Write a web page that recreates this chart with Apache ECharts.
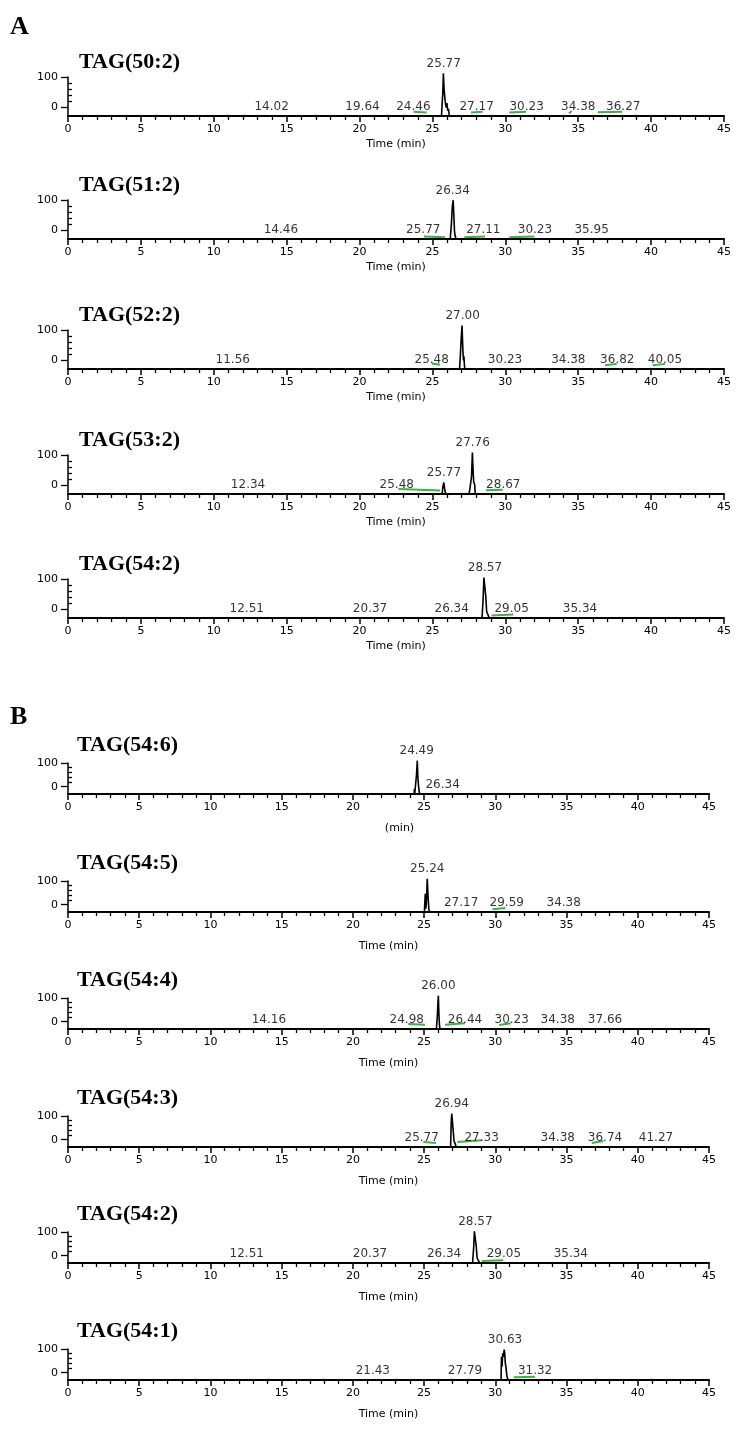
<!DOCTYPE html>
<html>
<head>
<meta charset="utf-8">
<title>TAG chromatograms</title>
<script src="https://cdn.jsdelivr.net/npm/echarts@6/dist/echarts.min.js"></script>
<style>
  html, body { margin: 0; padding: 0; background: #fff; }
  #chart { width: 739px; height: 1435px; }
</style>
</head>
<body>
<div id="chart"></div>
<script>
// 坐标轴刻度
const X_MIN = 0
const X_MAX = 45
const X_STEP = 5
const Y_TICKS = [0, 100]
const Y_MINOR_TICKS = [20, 40, 60, 80]

// 面板标题
const TITLES_A = ['TAG(50:2)', 'TAG(51:2)', 'TAG(52:2)', 'TAG(53:2)', 'TAG(54:2)']
const TITLES_B = ['TAG(54:6)', 'TAG(54:5)', 'TAG(54:4)', 'TAG(54:3)', 'TAG(54:2)', 'TAG(54:1)']

// 色谱曲线 [时间 min, 相对丰度 %]
const trace50_2 = [[25.62, 0], [25.68, 3], [25.71, 55], [25.75, 100], [25.79, 68], [25.83, 50], [25.87, 36], [25.91, 25], [25.95, 20], [25.99, 30], [26.02, 20], [26.06, 12], [26.1, 17], [26.14, 5], [26.17, 0]]
const trace51_2 = [[26.22, 0], [26.3, 35], [26.36, 75], [26.42, 91], [26.47, 55], [26.51, 20], [26.55, 8], [26.58, 10], [26.62, 0]]
const trace52_2 = [[26.86, 0], [26.92, 35], [26.97, 70], [27.03, 102], [27.07, 60], [27.1, 35], [27.13, 20], [27.16, 30], [27.2, 5], [27.24, 0]]
const trace53_2 = [[25.66, 0], [25.72, 18], [25.78, 27], [25.83, 14], [25.87, 5], [25.9, 8], [25.94, 0], [27.5, 0], [27.55, 7], [27.62, 8], [27.68, 40], [27.74, 97], [27.79, 55], [27.83, 28], [27.86, 30], [27.9, 22], [27.93, 0]]
const trace54_2 = [[28.4, 0], [28.47, 40], [28.53, 95], [28.6, 95], [28.66, 50], [28.72, 15], [28.78, 12], [28.84, 5], [28.9, 0]]
const trace54_6 = [[24.3, 0], [24.32, 15], [24.34, 0], [24.42, 0], [24.47, 60], [24.52, 100], [24.57, 45], [24.62, 20], [24.66, 5], [24.7, 0]]
const trace54_5 = [[25.02, 0], [25.08, 55], [25.12, 10], [25.16, 30], [25.22, 100], [25.28, 45], [25.33, 10], [25.38, 0]]
const trace54_4 = [[25.86, 0], [25.93, 40], [25.97, 80], [26.0, 100], [26.04, 45], [26.08, 10], [26.12, 0]]
const trace54_3 = [[26.86, 0], [26.9, 70], [26.94, 100], [27.03, 100], [27.06, 40], [27.1, 18], [27.15, 12], [27.2, 8], [27.24, 0]]
const trace54_1 = [[30.4, 0], [30.43, 70], [30.47, 40], [30.52, 80], [30.57, 70], [30.62, 91], [30.66, 80], [30.7, 50], [30.75, 38], [30.79, 20], [30.83, 8], [30.86, 12], [30.9, 0]]

// 峰标签 [标签位置 min, 高度 %, 保留时间文本]
const labels50_2 = [[13.97, 0, '14.02'], [20.2, 0, '19.64'], [23.69, 0, '24.46'], [25.77, 100, '25.77'], [28.03, 0, '27.17'], [31.46, 0, '30.23'], [35.0, 0, '34.38'], [38.09, 0, '36.27']]
const labels51_2 = [[14.6, 0, '14.46'], [24.37, 0, '25.77'], [26.39, 91, '26.34'], [28.49, 0, '27.11'], [32.03, 0, '30.23'], [35.92, 0, '35.95']]
const labels52_2 = [[11.3, 0, '11.56'], [24.95, 0, '25.48'], [27.07, 102, '27.00'], [29.98, 0, '30.23'], [34.32, 0, '34.38'], [37.68, 0, '36.82'], [40.95, 0, '40.05']]
const labels53_2 = [[12.35, 0, '12.34'], [22.55, 0, '25.48'], [25.79, 27, '25.77'], [27.76, 97, '27.76'], [29.86, 0, '28.67']]
const labels54_2 = [[12.26, 0, '12.51'], [20.72, 0, '20.37'], [26.32, 0, '26.34'], [28.6, 95, '28.57'], [30.43, 0, '29.05'], [35.12, 0, '35.34']]
const labels54_2b = [[12.55, 0, '12.51'], [21.2, 0, '20.37'], [26.4, 0, '26.34'], [28.6, 95, '28.57'], [30.6, 0, '29.05'], [35.3, 0, '35.34']]
const labels54_6 = [[24.48, 100, '24.49'], [26.3, 0, '26.34']]
const labels54_5 = [[25.22, 100, '25.24'], [27.6, 0, '27.17'], [30.8, 0, '29.59'], [34.8, 0, '34.38']]
const labels54_4 = [[14.1, 0, '14.16'], [23.78, 0, '24.98'], [26.0, 100, '26.00'], [27.87, 0, '26.44'], [31.15, 0, '30.23'], [34.38, 0, '34.38'], [37.7, 0, '37.66']]
const labels54_3 = [[24.83, 0, '25.77'], [26.94, 100, '26.94'], [29.04, 0, '27.33'], [34.38, 0, '34.38'], [37.7, 0, '36.74'], [41.28, 0, '41.27']]
const labels54_1 = [[21.4, 0, '21.43'], [27.87, 0, '27.79'], [30.68, 91, '30.63'], [32.79, 0, '31.32']]

// 积分基线 (绿色) [起点 min, 起点 %, 终点 min, 终点 %]
const marks50_2 = [[23.7, 10, 24.6, 8], [27.65, 8, 28.45, 10], [30.27, 8, 31.42, 10], [34.37, 6, 34.55, 12], [36.33, 9, 38.02, 10]]
const marks51_2 = [[24.42, 6, 25.86, 4], [27.19, 4, 28.6, 6], [30.27, 4, 31.99, 6]]
const marks52_2 = [[24.95, 13, 25.52, 10], [36.84, 9, 37.64, 12], [40.11, 9, 40.95, 12]]
const marks53_2 = [[22.66, 12, 25.52, 8], [28.67, 9, 29.82, 10]]
const marks54_2 = [[29.06, 6, 30.55, 8]]
const marks54_6 = []
const marks54_5 = [[29.8, 8, 30.7, 12]]
const marks54_4 = [[23.89, 15, 25.06, 13], [26.47, 13, 27.87, 17], [30.28, 12, 31.08, 17]]
const marks54_3 = [[24.95, 15, 25.84, 12], [27.33, 15, 29.04, 20], [36.77, 12, 37.58, 18]]
const marks54_1 = [[31.31, 8, 32.79, 10]]

const FONT = 'DejaVu Sans'
const SERIF = 'Liberation Serif'

// 两组面板的版式
const GEOM = {
  A: { right: 15, height: 39, dispMin: -31, dataMax: 91.4, titleGap: 65, titleLeft: 79, nameGap: 23 },
  B: { right: 30, height: 31, dispMin: -31, dataMax: 93, titleGap: 60, titleLeft: 77, nameGap: 29 }
}

const panels = [
  { group: 'A', axisY: 116, title: TITLES_A[0], trace: trace50_2, labels: labels50_2, marks: marks50_2 },
  { group: 'A', axisY: 239, title: TITLES_A[1], trace: trace51_2, labels: labels51_2, marks: marks51_2 },
  { group: 'A', axisY: 369, title: TITLES_A[2], trace: trace52_2, labels: labels52_2, marks: marks52_2 },
  { group: 'A', axisY: 494, title: TITLES_A[3], trace: trace53_2, labels: labels53_2, marks: marks53_2 },
  { group: 'A', axisY: 618, title: TITLES_A[4], trace: trace54_2, labels: labels54_2, marks: marks54_2 },
  { group: 'B', axisY: 794, title: TITLES_B[0], trace: trace54_6, labels: labels54_6, marks: marks54_6, xName: '(min)' },
  { group: 'B', axisY: 912, title: TITLES_B[1], trace: trace54_5, labels: labels54_5, marks: marks54_5 },
  { group: 'B', axisY: 1029, title: TITLES_B[2], trace: trace54_4, labels: labels54_4, marks: marks54_4 },
  { group: 'B', axisY: 1147, title: TITLES_B[3], trace: trace54_3, labels: labels54_3, marks: marks54_3 },
  { group: 'B', axisY: 1263, title: TITLES_B[4], trace: trace54_2, labels: labels54_2b, marks: marks54_2 },
  { group: 'B', axisY: 1380, title: TITLES_B[5], trace: trace54_1, labels: labels54_1, marks: marks54_1 }
]

const grid = []
const xAxis = []
const yAxis = []
const series = []
const title = [
  { text: 'A', left: 10, top: 14, padding: 0, textStyle: { fontFamily: SERIF, fontWeight: 'bold', fontSize: 26, color: '#000' } },
  { text: 'B', left: 10, top: 704, padding: 0, textStyle: { fontFamily: SERIF, fontWeight: 'bold', fontSize: 26, color: '#000' } }
]

panels.forEach((p, i) => {
  const g = GEOM[p.group]
  grid.push({ left: 68, right: g.right, top: p.axisY - g.height, height: g.height })

  const isMinOnly = p.xName === '(min)'
  xAxis.push({
    gridIndex: i,
    type: 'value',
    min: X_MIN,
    max: X_MAX,
    interval: X_STEP,
    name: p.xName || 'Time (min)',
    nameLocation: 'middle',
    nameGap: g.nameGap,
    nameTextStyle: { fontFamily: FONT, fontSize: 11, color: '#000', padding: isMinOnly ? [0, 0, 0, 22] : 0 },
    axisLine: { onZero: false, lineStyle: { color: '#000', width: 2 } },
    axisTick: { length: 6, lineStyle: { color: '#000', width: 1.5 } },
    minorTick: { show: true, splitNumber: 5, length: 4, lineStyle: { color: '#000', width: 1.3 } },
    axisLabel: { fontFamily: FONT, fontSize: 11, color: '#000', margin: 8 },
    splitLine: { show: false }
  })

  const yBase = yAxis.length
  // 显示用 y 轴：0 和 100
  yAxis.push({
    gridIndex: i,
    type: 'value',
    position: 'left',
    min: g.dispMin,
    max: 100,
    axisLine: { show: true, onZero: false, lineStyle: { color: '#000', width: 1.5 } },
    axisTick: { show: true, length: 7, customValues: Y_TICKS, lineStyle: { color: '#000', width: 1.3 } },
    axisLabel: { customValues: Y_TICKS, fontFamily: FONT, fontSize: 11, color: '#000', margin: 10 },
    splitLine: { show: false }
  })
  // 次刻度
  yAxis.push({
    gridIndex: i,
    type: 'value',
    position: 'left',
    min: g.dispMin,
    max: 100,
    axisLine: { show: false, onZero: false },
    axisTick: { show: true, inside: true, length: 4, customValues: Y_MINOR_TICKS, lineStyle: { color: '#000', width: 1.3 } },
    axisLabel: { show: false },
    splitLine: { show: false }
  })
  // 数据用 y 轴 (隐藏)
  yAxis.push({
    gridIndex: i,
    type: 'value',
    position: 'left',
    show: false,
    min: 0,
    max: g.dataMax,
    splitLine: { show: false }
  })
  const dataY = yBase + 2

  series.push({
    type: 'line',
    xAxisIndex: i,
    yAxisIndex: dataY,
    data: p.trace,
    symbol: 'none',
    clip: false,
    lineStyle: { color: '#000', width: 1.6 },
    z: 5
  })
  series.push({
    type: 'lines',
    coordinateSystem: 'cartesian2d',
    xAxisIndex: i,
    yAxisIndex: dataY,
    polyline: false,
    lineStyle: { color: '#3fae49', width: 2, opacity: 1 },
    data: p.marks.map(m => ({ coords: [[m[0], m[1]], [m[2], m[3]]] })),
    z: 4
  })
  series.push({
    type: 'scatter',
    xAxisIndex: i,
    yAxisIndex: dataY,
    data: p.labels,
    symbolSize: 1,
    clip: false,
    itemStyle: { color: 'rgba(0,0,0,0)' },
    label: {
      show: true,
      position: 'top',
      distance: 3,
      formatter: d => d.data[2],
      fontFamily: FONT,
      fontSize: 12,
      color: '#000'
    },
    z: 6
  })

  title.push({
    text: p.title,
    left: g.titleLeft,
    top: p.axisY - g.titleGap,
    padding: 0,
    textStyle: { fontFamily: SERIF, fontWeight: 'bold', fontSize: 22, color: '#000' }
  })
})

const chart = echarts.init(document.getElementById('chart'))
chart.setOption({
  backgroundColor: '#fff',
  animation: false,
  title,
  grid,
  xAxis,
  yAxis,
  series
})
</script>
</body>
</html>
